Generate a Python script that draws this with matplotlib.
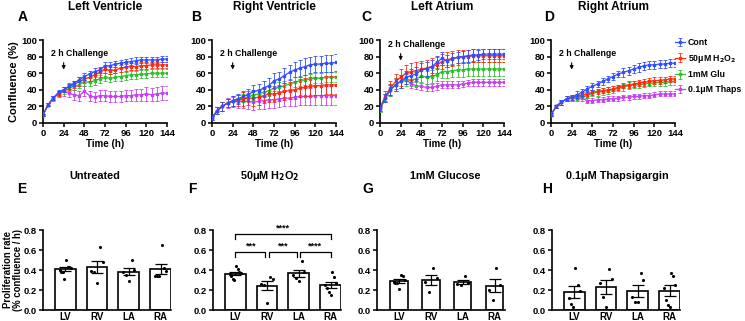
import numpy as np
import matplotlib
matplotlib.use("Agg")
import matplotlib.pyplot as plt

plt.rcParams["font.family"] = ["Liberation Sans", "DejaVu Sans"]
plt.rcParams["font.weight"] = "bold"
plt.rcParams["axes.labelweight"] = "bold"
plt.rcParams["axes.linewidth"] = 1.2
plt.rcParams["mathtext.default"] = "bf"

# ---- time-course data (confluence %, mean and error) ----
time_h = [0, 6, 12, 18, 24, 30, 36, 42, 48, 54, 60, 66, 72,
          78, 84, 90, 96, 102, 108, 114, 120, 126, 132, 138, 144]

lv_cont = [10, 22, 30, 37, 40, 44, 48, 52, 56, 59, 62, 64, 69, 69, 71, 72, 73, 74, 75, 76, 76, 76, 76, 77, 77]
lv_cont_err = [1, 2, 2, 3, 3, 3, 3, 3, 4, 4, 4, 4, 4, 4, 4, 4, 4, 4, 4, 4, 4, 4, 4, 4, 4]
lv_h2o2 = [10, 22, 30, 36, 40, 44, 46, 50, 53, 55, 58, 61, 65, 63, 64, 66, 67, 68, 68, 69, 69, 70, 70, 70, 70]
lv_h2o2_err = [1, 2, 2, 3, 3, 4, 4, 5, 5, 5, 5, 5, 5, 4, 4, 4, 4, 4, 4, 4, 4, 4, 4, 4, 4]
lv_glu = [10, 22, 30, 36, 38, 42, 44, 46, 50, 49, 51, 53, 55, 54, 55, 56, 57, 58, 58, 59, 59, 60, 60, 60, 60]
lv_glu_err = [1, 2, 2, 3, 3, 4, 4, 4, 5, 5, 5, 5, 5, 5, 5, 5, 5, 5, 5, 5, 5, 5, 5, 5, 5]
lv_thaps = [10, 22, 30, 35, 38, 36, 34, 33, 38, 33, 31, 33, 33, 32, 32, 32, 33, 33, 34, 34, 35, 34, 35, 36, 36]
lv_thaps_err = [1, 2, 3, 4, 5, 5, 6, 6, 6, 6, 6, 7, 7, 7, 7, 7, 7, 7, 7, 7, 8, 8, 8, 8, 8]

rv_cont = [6, 15, 20, 24, 27, 29, 32, 34, 38, 39, 42, 45, 51, 53, 57, 61, 64, 66, 68, 70, 71, 71, 72, 72, 73]
rv_cont_err = [2, 4, 5, 5, 6, 6, 6, 7, 8, 8, 9, 9, 9, 9, 9, 9, 9, 10, 10, 10, 10, 10, 10, 10, 10]
rv_h2o2 = [6, 15, 20, 24, 26, 27, 29, 30, 30, 31, 33, 35, 35, 36, 38, 39, 40, 42, 43, 44, 45, 45, 46, 46, 46]
rv_h2o2_err = [2, 4, 5, 5, 6, 7, 8, 8, 9, 9, 9, 10, 10, 10, 10, 10, 11, 11, 11, 11, 11, 11, 11, 11, 11]
rv_glu = [6, 15, 20, 24, 26, 29, 30, 31, 34, 35, 37, 39, 42, 43, 45, 47, 49, 51, 52, 53, 54, 54, 55, 55, 55]
rv_glu_err = [2, 4, 5, 5, 5, 5, 5, 5, 6, 6, 6, 6, 6, 6, 6, 6, 6, 6, 6, 6, 6, 6, 6, 6, 6]
rv_thaps = [6, 15, 20, 24, 26, 26, 26, 26, 25, 26, 27, 28, 28, 29, 30, 30, 31, 32, 32, 32, 33, 33, 33, 33, 33]
rv_thaps_err = [2, 4, 5, 6, 7, 8, 8, 9, 9, 9, 10, 10, 10, 10, 10, 10, 10, 10, 10, 10, 11, 11, 11, 11, 11]

la_cont = [18, 30, 40, 46, 50, 55, 57, 59, 64, 65, 68, 73, 78, 75, 77, 79, 80, 81, 82, 82, 83, 83, 83, 83, 83]
la_cont_err = [3, 5, 6, 7, 8, 8, 8, 8, 8, 8, 8, 8, 8, 7, 7, 7, 7, 7, 7, 6, 6, 6, 6, 6, 6]
la_h2o2 = [18, 32, 42, 50, 55, 60, 62, 63, 65, 66, 68, 70, 74, 76, 78, 79, 80, 80, 81, 81, 81, 81, 81, 81, 81]
la_h2o2_err = [3, 6, 8, 9, 10, 10, 10, 10, 10, 10, 10, 10, 9, 9, 9, 9, 8, 8, 8, 8, 8, 8, 8, 8, 8]
la_glu = [16, 30, 40, 46, 50, 52, 52, 53, 57, 55, 56, 58, 62, 62, 63, 64, 64, 65, 65, 65, 65, 65, 65, 65, 65]
la_glu_err = [3, 5, 7, 8, 8, 8, 8, 8, 8, 8, 8, 8, 8, 8, 8, 8, 8, 8, 8, 8, 8, 8, 8, 8, 8]
la_thaps = [16, 30, 40, 46, 50, 53, 47, 45, 44, 43, 43, 44, 46, 46, 46, 46, 47, 48, 49, 49, 49, 49, 49, 49, 49]
la_thaps_err = [3, 5, 7, 8, 8, 6, 5, 4, 4, 4, 4, 4, 4, 4, 4, 4, 4, 4, 4, 4, 4, 4, 4, 4, 4]

ra_cont = [10, 20, 25, 29, 31, 34, 37, 41, 44, 47, 50, 53, 56, 59, 61, 63, 65, 67, 69, 70, 70, 71, 71, 72, 72]
ra_cont_err = [2, 2, 3, 3, 3, 4, 4, 4, 4, 4, 4, 4, 4, 4, 5, 5, 5, 5, 5, 5, 5, 5, 5, 5, 5]
ra_h2o2 = [10, 20, 25, 29, 31, 32, 34, 35, 37, 38, 39, 40, 41, 43, 45, 46, 47, 48, 49, 50, 51, 51, 52, 53, 53]
ra_h2o2_err = [2, 2, 3, 3, 3, 3, 3, 3, 3, 3, 3, 3, 3, 3, 3, 4, 4, 4, 4, 4, 4, 4, 4, 4, 4]
ra_glu = [10, 20, 25, 29, 30, 31, 32, 33, 36, 37, 38, 39, 40, 42, 43, 45, 46, 46, 47, 48, 48, 49, 49, 50, 50]
ra_glu_err = [2, 2, 3, 3, 3, 3, 3, 3, 4, 4, 4, 4, 4, 4, 4, 4, 4, 4, 4, 4, 4, 4, 4, 4, 4]
ra_thaps = [10, 20, 25, 29, 30, 30, 30, 27, 27, 28, 28, 29, 29, 30, 31, 31, 32, 32, 33, 33, 34, 35, 35, 35, 35]
ra_thaps_err = [2, 2, 3, 3, 3, 3, 3, 3, 3, 3, 3, 3, 3, 3, 3, 3, 3, 3, 3, 3, 3, 3, 3, 3, 3]

treatments = ["Cont", "50μM H$_2$O$_2$", "1mM Glu", "0.1μM Thaps"]
colors = ["#3050ff", "#ff2a10", "#30c030", "#c840f0"]

top_panels = [
    ("A", "Left Ventricle", [(lv_cont, lv_cont_err), (lv_h2o2, lv_h2o2_err), (lv_glu, lv_glu_err), (lv_thaps, lv_thaps_err)], 84),
    ("B", "Right Ventricle", [(rv_cont, rv_cont_err), (rv_h2o2, rv_h2o2_err), (rv_glu, rv_glu_err), (rv_thaps, rv_thaps_err)], 84),
    ("C", "Left Atrium", [(la_cont, la_cont_err), (la_h2o2, la_h2o2_err), (la_glu, la_glu_err), (la_thaps, la_thaps_err)], 95),
    ("D", "Right Atrium", [(ra_cont, ra_cont_err), (ra_h2o2, ra_h2o2_err), (ra_glu, ra_glu_err), (ra_thaps, ra_thaps_err)], 84),
]

# ---- proliferation rate (individual values) ----
chambers = ["LV", "RV", "LA", "RA"]
untreated = [
    [0.50, 0.43, 0.43, 0.42, 0.40, 0.38, 0.38, 0.31],
    [0.63, 0.48, 0.39, 0.38, 0.27],
    [0.50, 0.40, 0.38, 0.35, 0.29],
    [0.65, 0.42, 0.39, 0.34, 0.34, 0.34],
]
h2o2 = [
    [0.44, 0.41, 0.38, 0.37, 0.36, 0.34, 0.31, 0.30],
    [0.33, 0.31, 0.26, 0.25, 0.07],
    [0.49, 0.38, 0.35, 0.32, 0.29],
    [0.38, 0.33, 0.27, 0.25, 0.22, 0.18, 0.15],
]
glucose = [
    [0.35, 0.34, 0.30, 0.28, 0.27, 0.27, 0.21],
    [0.42, 0.32, 0.28, 0.18],
    [0.34, 0.27, 0.26, 0.25],
    [0.42, 0.25, 0.20, 0.10],
]
thaps = [
    [0.42, 0.25, 0.19, 0.12, 0.06, 0.03],
    [0.41, 0.31, 0.27, 0.13, 0.03],
    [0.37, 0.30, 0.13, 0.08, 0.08],
    [0.37, 0.34, 0.25, 0.22, 0.10, 0.05, 0.03],
]
h2o2_sig = [(0, 1, "***"), (1, 2, "***"), (2, 3, "****"), (0, 3, "****")]

bottom_panels = [
    ("E", "Untreated", untreated, 0.66, []),
    ("F", "50μM H$_2$O$_2$", h2o2, 0.66, h2o2_sig),
    ("G", "1mM Glucose", glucose, 0.55, []),
    ("H", "0.1μM Thapsigargin", thaps, 0.66, []),
]

W, H = 745, 321
fig = plt.figure(figsize=(W / 100, H / 100), dpi=100)


def px_axes(left, top, right, bottom):
    return fig.add_axes([left / W, 1 - bottom / H, (right - left) / W, (bottom - top) / H])


def style(ax):
    for s in ("top", "right"):
        ax.spines[s].set_visible(False)
    ax.tick_params(direction="out", length=3, width=1.1, labelsize=6.8, pad=1.2)
    for lab in ax.get_xticklabels() + ax.get_yticklabels():
        lab.set_fontweight("bold")


top_lefts = [43, 212, 380, 551]
letter_x = [23, 196, 366, 549]
for i, (letter, title, series, txt_y) in enumerate(top_panels):
    ax = px_axes(top_lefts[i], 40, top_lefts[i] + 124, 123)
    for k in [3, 2, 1, 0]:
        y, e = series[k]
        ax.errorbar(time_h, y, yerr=e, color=colors[k], ecolor=colors[k],
                    elinewidth=0.6, capsize=1.2, capthick=0.6, lw=0.9,
                    marker="s", ms=1.5, zorder=3 + (3 - k),
                    label=treatments[k])
    ax.set_xlim(0, 144)
    ax.set_ylim(0, 100)
    ax.set_xticks([0, 24, 48, 72, 96, 120, 144])
    ax.set_yticks([0, 20, 40, 60, 80, 100])
    ax.set_xlabel("Time (h)", fontsize=7, labelpad=1)
    if i == 0:
        ax.set_ylabel("Confluence (%)", fontsize=8, labelpad=2)
    style(ax)
    ax.annotate("", xy=(24, txt_y - 23), xytext=(24, txt_y - 8),
                arrowprops=dict(arrowstyle="-|>", color="black", lw=0.8,
                                mutation_scale=5))
    ax.text(9, txt_y, "2 h Challenge", fontsize=6.3, fontweight="bold",
            ha="left", va="center")
    fig.text((top_lefts[i] + 62) / W, 1 - 7 / H, title, fontsize=8.5,
             fontweight="bold", ha="center", va="center")
    fig.text(letter_x[i] / W, 1 - 17 / H, letter, fontsize=10,
             fontweight="bold", ha="center", va="center")
    if i == 3:
        handles, labels = ax.get_legend_handles_labels()
        handles, labels = handles[::-1], labels[::-1]
        ax.legend(handles, labels, loc="upper left",
                  bbox_to_anchor=(675 / W, 1 - 38 / H),
                  bbox_transform=fig.transFigure, frameon=False,
                  fontsize=6.3, handlelength=1.1, handletextpad=0.4,
                  labelspacing=0.65, borderaxespad=0, borderpad=0)

bot_lefts = [43, 213, 377, 552]
bot_title_x = [95, 270, 445, 617]
bot_letter_x = [22, 192, 368, 547]
for i, (letter, title, groups, bw, sig) in enumerate(bottom_panels):
    ax = px_axes(bot_lefts[i], 230, bot_lefts[i] + 128, 310)
    xs = np.arange(len(chambers))
    means = [np.mean(g) for g in groups]
    sems = [np.std(g, ddof=1) / np.sqrt(len(g)) for g in groups]
    ax.bar(xs, means, width=bw, color="white", edgecolor="black", lw=1.2, zorder=2)
    ax.errorbar(xs, means, yerr=sems, fmt="none", ecolor="black", elinewidth=0.9,
                capsize=4, capthick=0.9, zorder=4)
    for j, g in enumerate(groups):
        n = len(g)
        offs = np.linspace(-0.18, 0.18, n) if n > 1 else np.zeros(1)
        offs = np.roll(offs, n // 2)
        ax.scatter(xs[j] + offs, g, s=5, color="black", zorder=5, lw=0)
    for a, b, label in sig:
        if b - a == 3:
            y0, y1 = 0.71, 0.76
            x0, x1 = a, b
        else:
            y0, y1 = 0.53, 0.58
            x0 = a + (0.05 if a > 0 else 0)
            x1 = b - (0.05 if b < 3 else 0)
        ax.plot([x0, x0, x1, x1], [y0, y1, y1, y0], color="black", lw=0.9,
                clip_on=False)
        ax.text((a + b) / 2, y1 + 0.01, label, ha="center", va="bottom",
                fontsize=6.5, fontweight="bold")
    ax.set_xlim(-0.7, 3.33)
    ax.set_ylim(0, 0.8)
    ax.set_yticks([0, 0.2, 0.4, 0.6, 0.8])
    ax.set_yticklabels(["0.0", "0.2", "0.4", "0.6", "0.8"])
    ax.set_xticks(xs)
    ax.set_xticklabels(chambers)
    style(ax)
    ax.tick_params(axis="x", length=0, pad=1.5, labelsize=7)
    if i == 0:
        ax.set_ylabel("Proliferation rate\n(% confluence / h)", fontsize=6.9,
                      labelpad=0.5, linespacing=1.05)
    fig.text(bot_title_x[i] / W, 1 - 176 / H, title, fontsize=7.8,
             fontweight="bold", ha="center", va="center")
    fig.text(bot_letter_x[i] / W, 1 - 189 / H, letter, fontsize=10,
             fontweight="bold", ha="center", va="center")

fig.savefig("out.png", dpi=100)
